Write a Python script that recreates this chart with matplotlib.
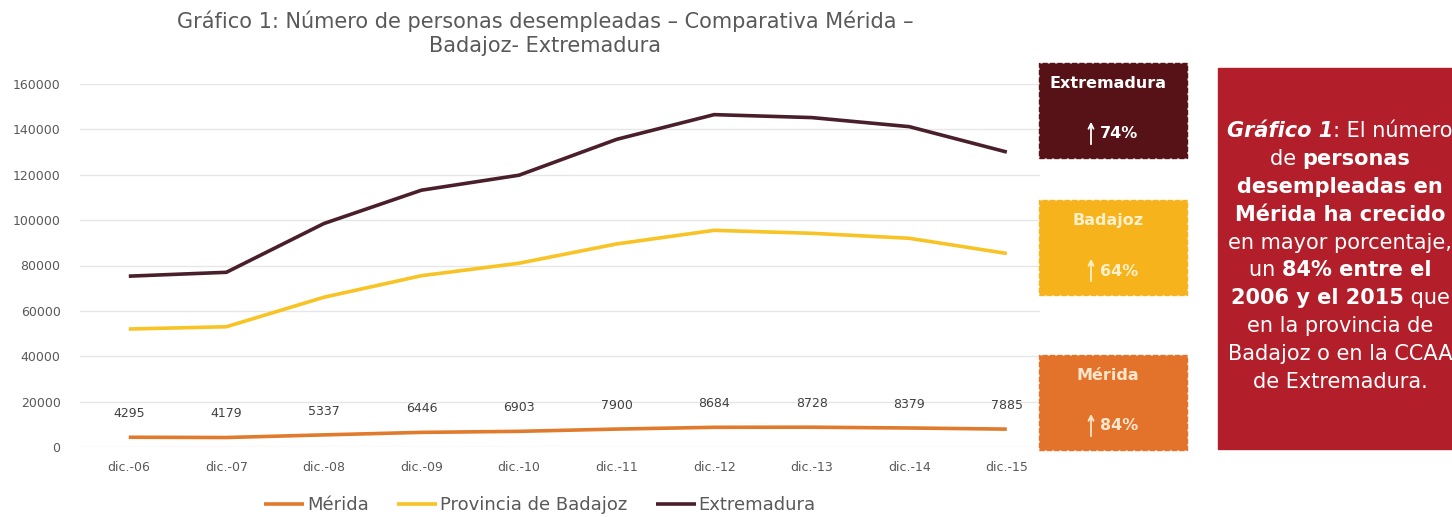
import numpy as np
import matplotlib.pyplot as plt
from matplotlib.patches import Rectangle, FancyArrowPatch

# Datos
fechas = ['dic.-06', 'dic.-07', 'dic.-08', 'dic.-09', 'dic.-10',
          'dic.-11', 'dic.-12', 'dic.-13', 'dic.-14', 'dic.-15']
merida = [4295, 4179, 5337, 6446, 6903, 7900, 8684, 8728, 8379, 7885]
badajoz = [52000, 53000, 66000, 75500, 81000, 89500, 95500, 94200, 92000, 85300]
extremadura = [75300, 77000, 98500, 113200, 119800, 135600, 146500, 145200, 141200, 130000]

series_labels = ['Mérida', 'Provincia de Badajoz', 'Extremadura']
colors = ['#e07a2c', '#f7c325', '#4a1f2c']

box_titles = ['Extremadura', 'Badajoz', 'Mérida']
box_pcts = ['74%', '64%', '84%']
box_colors = ['#561216', '#f6b31c', '#e3732a']
box_textcolors = ['white', '#fff0cc', '#ffe6cc']

W, H = 1452, 517
fig = plt.figure(figsize=(W / 100, H / 100), dpi=100)
fig.patch.set_facecolor('white')

def fx(px):
    return px / W

def fy(py):
    return 1 - py / H

# Ejes principales
ax = fig.add_axes([fx(80), fy(447), fx(1040) - fx(80), fy(84) - fy(447)])
x = np.arange(len(fechas))
for vals, c, lab in zip([merida, badajoz, extremadura], colors, series_labels):
    ax.plot(x, vals, color=c, lw=2.6, label=lab, solid_capstyle='butt')

for xi, v in zip(x, merida):
    ax.annotate(f"{v}", (xi, v), xytext=(0, 17), textcoords='offset points',
                ha='center', va='center', fontsize=9, color='#404040')

ax.set_xlim(-0.5, 9.34)
ax.set_ylim(0, 160000)
ax.set_yticks(np.arange(0, 160001, 20000))
ax.set_xticks(x)
ax.set_xticklabels(fechas)
ax.tick_params(axis='both', length=0, labelsize=9, labelcolor='#595959')
ax.tick_params(axis='x', pad=10)
ax.tick_params(axis='y', pad=14)
ax.grid(axis='y', color='#e6e6e6', lw=1)
ax.set_axisbelow(True)
for s in ax.spines.values():
    s.set_visible(False)

# Titulo
fig.text(fx(545), fy(33), "Gráfico 1: Número de personas desempleadas – Comparativa Mérida –\nBadajoz- Extremadura",
         ha='center', va='center', fontsize=15, color='#595959', linespacing=1.25)

# Leyenda
fig.legend(loc='center', bbox_to_anchor=(fx(540), fy(505)), ncol=3, frameon=False,
           fontsize=13, labelcolor='#595959', handlelength=2.2, handletextpad=0.15,
           columnspacing=1.6)

# Cajas de la derecha
box_tops = [63, 200, 355]
for top, t, p, bc, tc in zip(box_tops, box_titles, box_pcts, box_colors, box_textcolors):
    fig.patches.append(Rectangle((fx(1039), fy(top + 95)), fx(1187) - fx(1039), fy(top) - fy(top + 95),
                                 transform=fig.transFigure, facecolor=bc, edgecolor=bc,
                                 linestyle='--', lw=1, zorder=5))
    fig.text(fx(1108), fy(top + 21), t, ha='center', va='center', fontsize=11.5,
             fontweight='bold', color=tc, zorder=6)
    fig.patches.append(FancyArrowPatch((fx(1091), fy(top + 84)), (fx(1091), fy(top + 56)),
                                       transform=fig.transFigure, arrowstyle='->',
                                       mutation_scale=9, lw=1.3, color=tc, zorder=6))
    fig.text(fx(1100), fy(top + 71), p, ha='left', va='center', fontsize=11.5,
             fontweight='bold', color=tc, zorder=6)

# Caja roja con texto
fig.patches.append(Rectangle((fx(1218), fy(449)), fx(1460) - fx(1218), fy(68) - fy(449),
                             transform=fig.transFigure, facecolor='#b21f2a', edgecolor='#b21f2a',
                             zorder=5))

lines = [
    [("Gráfico 1", 'bold', 'italic'), (": El número", 'normal', 'normal')],
    [("de ", 'normal', 'normal'), ("personas", 'bold', 'normal')],
    [("desempleadas en", 'bold', 'normal')],
    [("Mérida ha crecido", 'bold', 'normal')],
    [("en mayor porcentaje,", 'normal', 'normal')],
    [("un ", 'normal', 'normal'), ("84% entre el", 'bold', 'normal')],
    [("2006 y el 2015", 'bold', 'normal'), (" que", 'normal', 'normal')],
    [("en la provincia de", 'normal', 'normal')],
    [("Badajoz o en la CCAA", 'normal', 'normal')],
    [("de Extremadura.", 'normal', 'normal')],
]
line_y0, line_dy = 131, 27.9
cx = 1340
renderer = fig.canvas.get_renderer()
for i, segs in enumerate(lines):
    yy = fy(line_y0 + i * line_dy)
    texts = []
    for s, w, st in segs:
        t = fig.text(0, yy, s, ha='left', va='center', fontsize=15, color='white',
                     fontweight=w, fontstyle=st, zorder=6)
        texts.append(t)
    widths = [t.get_window_extent(renderer).width for t in texts]
    total = sum(widths)
    xpos = cx - total / 2
    for t, wdt in zip(texts, widths):
        t.set_x(fx(xpos))
        xpos += wdt

fig.savefig("out.png", dpi=100)
